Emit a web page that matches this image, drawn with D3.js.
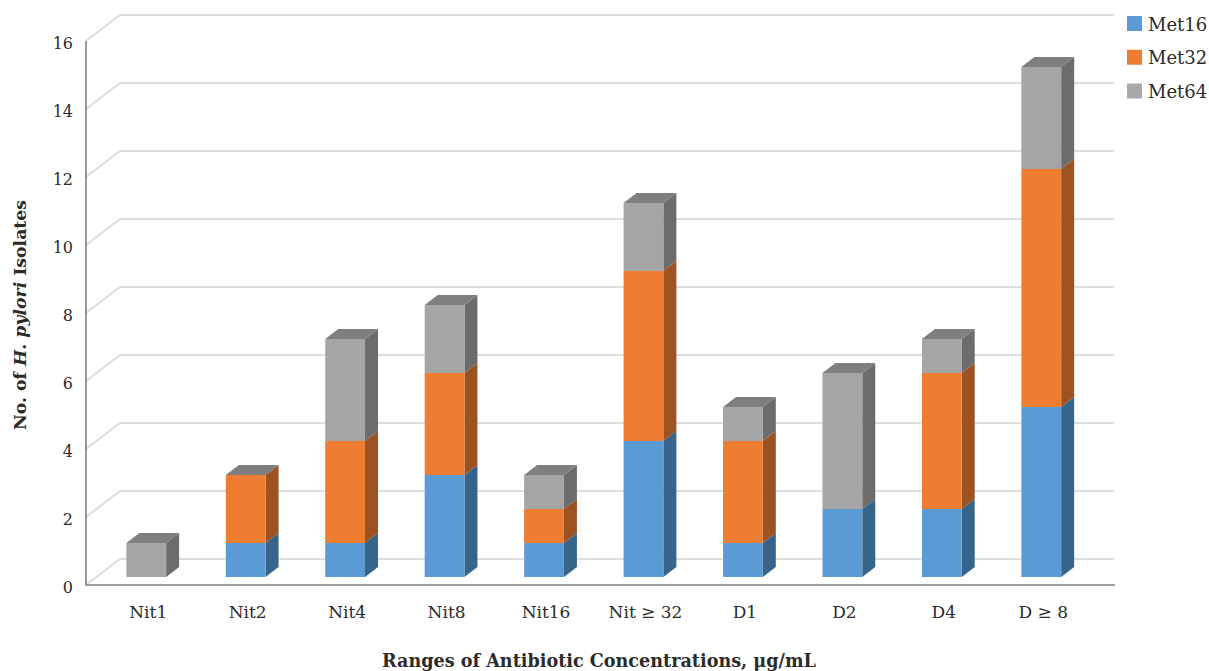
<!DOCTYPE html>
<html>
<head>
<meta charset="utf-8">
<script src="https://cdn.jsdelivr.net/npm/d3@7"></script>
<style>
  html, body { margin: 0; padding: 0; background: #fff; overflow: hidden; }
  svg { display: block; }
  text { font-family: "DejaVu Serif", serif; fill: #2b2b2b; }
</style>
</head>
<body>
<script>
var categories = ["Nit1", "Nit2", "Nit4", "Nit8", "Nit16", "Nit \u2265 32", "D1", "D2", "D4", "D \u2265 8"];
var seriesNames = ["Met16", "Met32", "Met64"];
var met16 = [0, 1, 1, 3, 1, 4, 1, 2, 2, 5];
var met32 = [0, 2, 3, 3, 1, 5, 3, 0, 4, 7];
var met64 = [1, 0, 3, 2, 1, 2, 1, 4, 1, 3];
var yTicks = [0, 2, 4, 6, 8, 10, 12, 14, 16];

var frontColors = ["#5b9bd5", "#ed7d31", "#a5a5a5"];
var sideColors = ["#36648b", "#9c5221", "#6c6c6c"];
var topColor = "#7f7f7f";
var legendColors = ["#5b9bd5", "#ed7d31", "#a9a9ac"];

var width = 1209;
var height = 671;
var axisX = 86;
var axisEnd = 1115;
// the 3d floor: how far the back wall is shifted from the front plane
var wallDx = 34;
var wallDy = -26;
// depth of a bar, and where its front face sits on the floor
var barDx = 13;
var barDy = -10;
var barLift = 8;

var rows = categories.map(function(c, i) {
  return { cat: c, Met16: met16[i], Met32: met32[i], Met64: met64[i] };
});
var stacked = d3.stack().keys(seriesNames)(rows);

var x = d3.scaleBand()
  .domain(categories)
  .range([96.5, 1091])
  .paddingInner(0.6)
  .paddingOuter(0.3);

var y = d3.scaleLinear()
  .domain([0, 16])
  .range([585, 41]);

var svg = d3.select("body").append("svg")
  .attr("width", width)
  .attr("height", height);

// Back wall gridlines with their slanted side wall part
svg.append("g").selectAll("polyline")
  .data(yTicks)
  .enter()
  .append("polyline")
  .attr("fill", "none")
  .attr("stroke", "#dedede")
  .attr("stroke-width", 2.2)
  .attr("points", function(d) {
    return [[axisX, y(d)], [axisX + wallDx, y(d) + wallDy], [axisEnd - 1, y(d) + wallDy]].join(" ");
  });

// Bars
var layers = svg.append("g").selectAll("g")
  .data(stacked)
  .enter()
  .append("g");

function barY(v) { return y(v) - barLift; }

layers.selectAll("path.side")
  .data(function(s) { return s.map(function(d) { return { d: d, i: s.index }; }); })
  .enter()
  .append("path")
  .attr("class", "side")
  .attr("fill", function(p) { return sideColors[p.i]; })
  .attr("d", function(p) {
    var x1 = x(p.d.data.cat) + x.bandwidth();
    var y0 = barY(p.d[0]), y1 = barY(p.d[1]);
    return "M" + x1 + "," + y0 + "L" + (x1 + barDx) + "," + (y0 + barDy) +
      "L" + (x1 + barDx) + "," + (y1 + barDy) + "L" + x1 + "," + y1 + "Z";
  });

layers.selectAll("rect")
  .data(function(s) { return s.map(function(d) { return { d: d, i: s.index }; }); })
  .enter()
  .append("rect")
  .attr("fill", function(p) { return frontColors[p.i]; })
  .attr("x", function(p) { return x(p.d.data.cat); })
  .attr("y", function(p) { return barY(p.d[1]); })
  .attr("width", x.bandwidth())
  .attr("height", function(p) { return barY(p.d[0]) - barY(p.d[1]); });

// Top cap of each column
svg.append("g").selectAll("path")
  .data(stacked[2])
  .enter()
  .append("path")
  .attr("fill", topColor)
  .attr("d", function(d) {
    var x0 = x(d.data.cat), w = x.bandwidth(), t = barY(d[1]);
    return "M" + x0 + "," + t + "L" + (x0 + barDx) + "," + (t + barDy) +
      "L" + (x0 + w + barDx) + "," + (t + barDy) + "L" + (x0 + w) + "," + t + "Z";
  });

// Axes
var yAxis = d3.axisLeft(y).tickValues(yTicks).tickSize(0).tickPadding(13);
var yAxisGroup = svg.append("g")
  .attr("transform", "translate(" + axisX + ",0)")
  .call(yAxis);
yAxisGroup.select(".domain").remove();
yAxisGroup.selectAll("text")
  .attr("dy", "0.62em")
  .attr("y", -2)
  .style("font-size", "16px")
  .style("font-family", "'DejaVu Serif', serif");

svg.append("path")
  .attr("fill", "none")
  .attr("stroke", "#808080")
  .attr("stroke-width", 1.6)
  .attr("d", "M" + axisX + "," + y(16) + "V" + y(0) + "H" + axisEnd);

var xLabels = svg.append("g")
  .attr("transform", "translate(0,618)")
  .call(d3.axisBottom(x).tickSize(0).tickPadding(0));
xLabels.select(".domain").remove();
xLabels.selectAll(".tick")
  .attr("transform", function(d) {
    return "translate(" + (x(d) + x.bandwidth() / 2 + 2) + ",0)";
  });
xLabels.selectAll("text")
  .attr("y", 0)
  .attr("dy", 0)
  .style("font-size", "17px")
  .style("font-family", "'DejaVu Serif', serif");

// Axis titles
svg.append("text")
  .attr("x", 599)
  .attr("y", 667)
  .attr("text-anchor", "middle")
  .style("font-size", "17.6px")
  .style("font-weight", "bold")
  .text("Ranges of Antibiotic Concentrations, \u03bcg/mL");

var yTitle = svg.append("text")
  .attr("transform", "translate(26,315) rotate(-90)")
  .attr("text-anchor", "middle")
  .style("font-size", "17.3px")
  .style("font-weight", "bold");
yTitle.append("tspan").text("No. of ");
yTitle.append("tspan").style("font-style", "italic").text("H. pylori");
yTitle.append("tspan").text(" Isolates");

// Legend
var legendY = d3.scalePoint()
  .domain(seriesNames)
  .range([23.5, 91]);

var legend = svg.append("g").selectAll("g")
  .data(seriesNames)
  .enter()
  .append("g")
  .attr("transform", function(d) { return "translate(1127," + legendY(d) + ")"; });

legend.append("rect")
  .attr("x", 0)
  .attr("y", -7.5)
  .attr("width", 15)
  .attr("height", 15)
  .attr("fill", function(d, i) { return legendColors[i]; });

legend.append("text")
  .attr("x", 21)
  .attr("y", 7)
  .style("font-size", "18px")
  .text(function(d) { return d; });
</script>
</body>
</html>
